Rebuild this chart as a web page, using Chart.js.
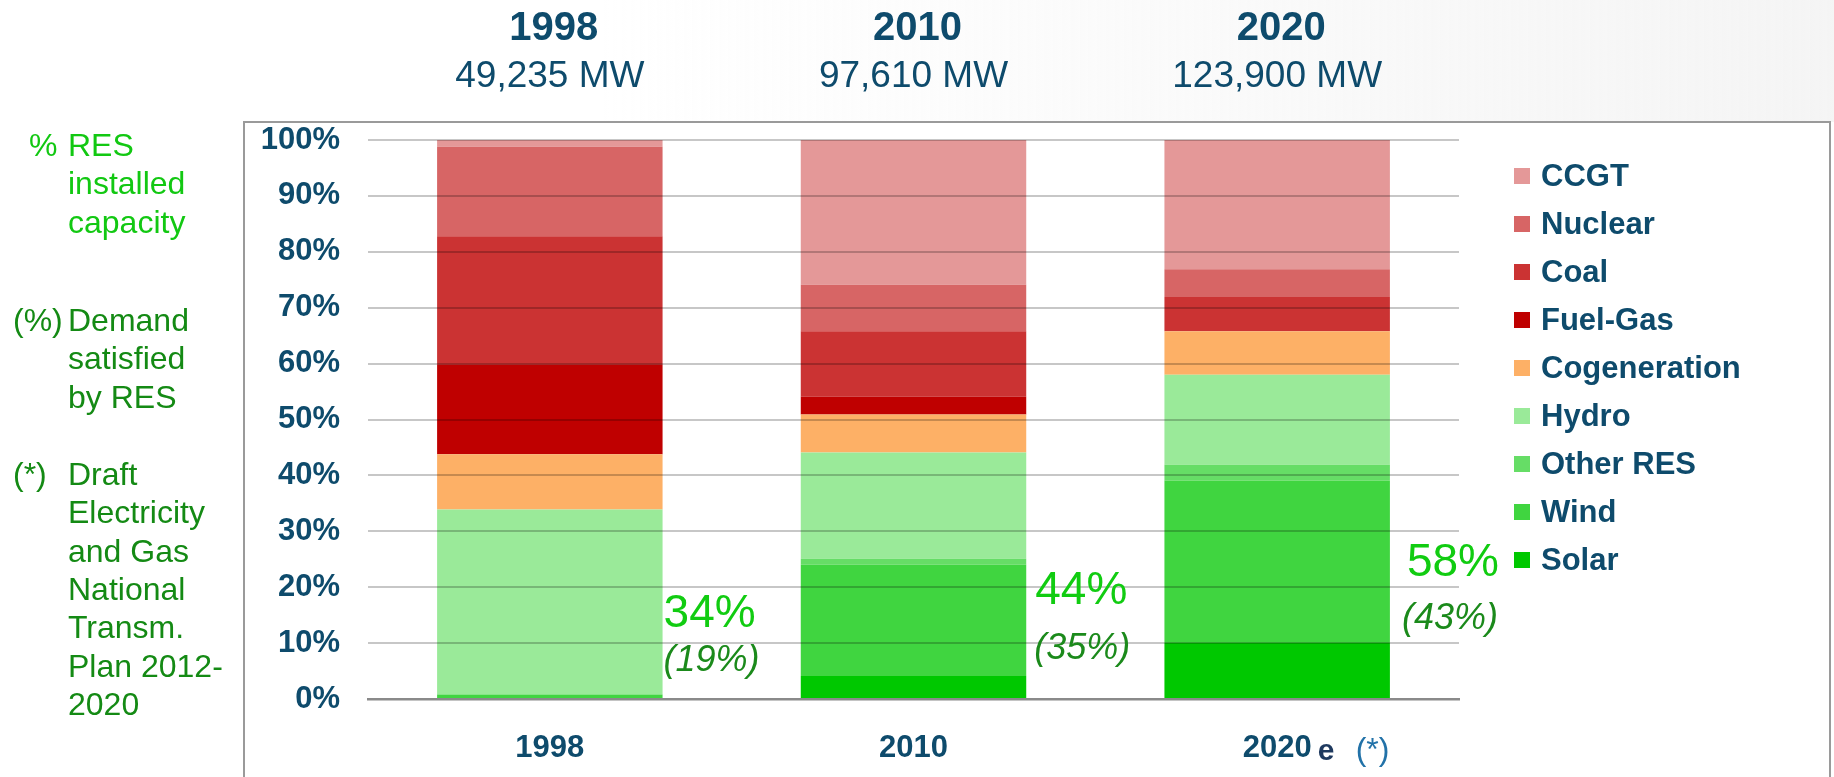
<!DOCTYPE html>
<html>
<head>
<meta charset="utf-8">
<script src="https://cdn.jsdelivr.net/npm/chart.js@4.4.1/dist/chart.umd.min.js"></script>
<style>
  html, body { margin: 0; padding: 0; background: #ffffff; }
  #wrap { width: 1834px; height: 777px; position: relative; }
  canvas { display: block; }
</style>
</head>
<body>
<div id="wrap"><canvas id="c" width="1834" height="777"></canvas></div>
<script>
// ---- data ----
const categories = ['1998', '2010', '2020'];
const yearTitles = ['1998', '2010', '2020'];
const capacityLabels = ['49,235 MW', '97,610 MW', '123,900 MW'];
const resInstalled = ['34%', '44%', '58%'];
const resDemand = ['(19%)', '(35%)', '(43%)'];
const yTicks = [0, 10, 20, 30, 40, 50, 60, 70, 80, 90, 100];

// series (bottom to top), % of installed capacity
const solar        = [0.0,  4.1, 10.0];
const wind         = [0.8, 19.9, 29.1];
const otherRES     = [0.0,  1.1,  2.8];
const hydro        = [33.1, 19.0, 16.1];
const cogeneration = [9.9,  6.8,  7.8];
const fuelGas      = [16.1, 3.2,  0.0];
const coal         = [22.9, 11.7, 6.1];
const nuclear      = [16.0, 8.3,  5.0];
const ccgt         = [1.2, 25.9, 23.1];

const seriesNames = ['Solar', 'Wind', 'Other RES', 'Hydro', 'Cogeneration', 'Fuel-Gas', 'Coal', 'Nuclear', 'CCGT'];
const seriesValues = [solar, wind, otherRES, hydro, cogeneration, fuelGas, coal, nuclear, ccgt];
const seriesColors = ['#00C800', '#40D540', '#66DD66', '#9AEA99', '#FDB066', '#BF0000', '#CB3333', '#D76565', '#E49898'];

const leftNotes = [
  { mark: '%', markX: 29, color: '#12C812', lines: ['RES', 'installed', 'capacity'], y: 156 },
  { mark: '(%)', markX: 13, color: '#148A14', lines: ['Demand', 'satisfied', 'by RES'], y: 331 },
  { mark: '(*)', markX: 13, color: '#148A14', lines: ['Draft', 'Electricity', 'and Gas', 'National', 'Transm.', 'Plan 2012-', '2020'], y: 485 }
];

const NAVY = '#0E4B6C';
const FONT = 'Arial, "Liberation Sans", Helvetica, sans-serif';

const decorPlugin = {
  id: 'decor',
  beforeDraw(chart) {
    const ctx = chart.ctx;
    ctx.save();
    // faint top background shading
    const g = ctx.createLinearGradient(600, 0, 1834, 0);
    g.addColorStop(0, 'rgba(238,238,238,0)');
    g.addColorStop(1, 'rgba(236,236,236,1)');
    ctx.fillStyle = g;
    ctx.globalAlpha = 0.55;
    ctx.fillRect(0, 0, 1834, 122);
    ctx.globalAlpha = 1;
    // frame box
    ctx.fillStyle = '#ffffff';
    ctx.fillRect(244, 122, 1586, 700);
    ctx.strokeStyle = '#9a9a9a';
    ctx.lineWidth = 2;
    ctx.strokeRect(244, 122, 1586, 700);
    ctx.restore();
  },
  afterDraw(chart) {
    const ctx = chart.ctx;
    const area = chart.chartArea;
    const xs = chart.scales.x;
    const meta = chart.getDatasetMeta(0);
    ctx.save();
    // titles on top
    ctx.textAlign = 'center';
    ctx.textBaseline = 'alphabetic';
    ctx.fillStyle = NAVY;
    categories.forEach((c, i) => {
      const cx = xs.getPixelForValue(i);
      ctx.font = 'bold 40px ' + FONT;
      ctx.fillText(yearTitles[i], cx + 4, 40);
      ctx.font = '37px ' + FONT;
      ctx.fillText(capacityLabels[i], cx, 87);
    });
    // RES annotations next to bars
    const bigOff = [72, 95, 123];
    const smallOff = [28, 40, 70];
    const bigDx = [1, 9, 17];
    const smallDx = [1, 8, 12];
    ctx.textAlign = 'left';
    categories.forEach((c, i) => {
      const bar = meta.data[i];
      const right = bar.x + bar.width / 2;
      ctx.font = '46px ' + FONT;
      ctx.fillStyle = '#11CC11';
      ctx.fillText(resInstalled[i], right + bigDx[i], area.bottom - bigOff[i]);
      ctx.font = 'italic 36px ' + FONT;
      ctx.fillStyle = '#1B8A1B';
      ctx.fillText(resDemand[i], right + smallDx[i], area.bottom - smallOff[i]);
    });
    // "e (*)" after last x label
    const lastX = xs.getPixelForValue(categories.length - 1);
    ctx.font = 'bold 31px ' + FONT;
    const w = ctx.measureText(categories[categories.length - 1]).width;
    ctx.fillStyle = '#1F3A5F';
    ctx.font = 'bold 30px ' + FONT;
    ctx.fillText('e', lastX + w / 2 + 6, 760);
    ctx.fillStyle = '#2272A8';
    ctx.font = '32px ' + FONT;
    ctx.fillText('(*)', lastX + w / 2 + 44, 760);
    // legend (top = last dataset)
    const ds = chart.data.datasets;
    const lx = area.right + 55;
    let ly = area.top + 36;
    ctx.textBaseline = 'middle';
    for (let k = ds.length - 1; k >= 0; k--) {
      ctx.fillStyle = ds[k].backgroundColor;
      ctx.fillRect(lx, ly - 8, 16, 16);
      ctx.fillStyle = NAVY;
      ctx.font = 'bold 31px ' + FONT;
      ctx.fillText(ds[k].label, lx + 27, ly + 1);
      ly += 48;
    }
    // left notes
    ctx.textBaseline = 'alphabetic';
    ctx.font = '32px ' + FONT;
    leftNotes.forEach(n => {
      ctx.fillStyle = n.color;
      ctx.fillText(n.mark, n.markX, n.y);
      n.lines.forEach((t, j) => ctx.fillText(t, 68, n.y + j * 38.3));
    });
    ctx.restore();
  }
};

const chart = new Chart(document.getElementById('c'), {
  type: 'bar',
  data: {
    labels: categories,
    datasets: seriesNames.map((name, i) => ({
      label: name,
      data: seriesValues[i],
      backgroundColor: seriesColors[i],
      borderWidth: 0,
      categoryPercentage: 1.0,
      barPercentage: 0.62
    }))
  },
  options: {
    responsive: false,
    animation: false,
    devicePixelRatio: 1,
    layout: { padding: { top: 140, right: 375, left: 0, bottom: 0 } },
    plugins: {
      legend: { display: false },
      tooltip: { enabled: false },
      title: { display: false }
    },
    scales: {
      x: {
        stacked: true,
        grid: { display: false, drawTicks: false },
        border: { display: true, color: '#8a8a8a', width: 2.5, z: 2 },
        ticks: {
          color: NAVY,
          font: { family: FONT, size: 31, weight: 'bold', lineHeight: 1.2 },
          padding: 31,
          maxRotation: 0
        },
        afterFit(scale) { scale.height = 78; }
      },
      y: {
        stacked: true,
        min: 0,
        max: 100,
        afterBuildTicks(scale) { scale.ticks = yTicks.map(v => ({ value: v })); },
        grid: { color: 'rgba(0,0,0,0.22)', lineWidth: 2, drawTicks: false, z: 1 },
        border: { display: false },
        ticks: {
          color: NAVY,
          font: { family: FONT, size: 31, weight: 'bold', lineHeight: 1.2 },
          padding: 28,
          callback: v => v + '%'
        },
        afterFit(scale) { scale.width = 368; }
      }
    }
  },
  plugins: [decorPlugin]
});
</script>
</body>
</html>
